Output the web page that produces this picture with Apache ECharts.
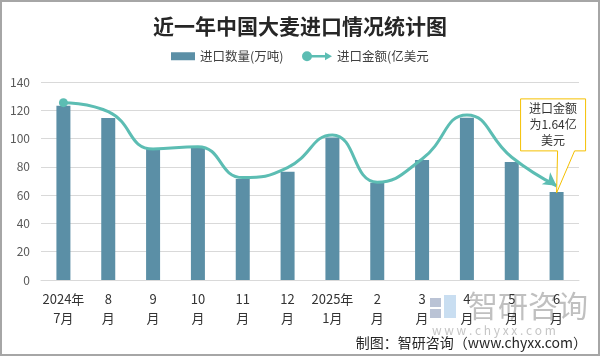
<!DOCTYPE html>
<html><head><meta charset="utf-8">
<script src="https://cdn.jsdelivr.net/npm/echarts@6/dist/echarts.min.js"></script>
<style>html,body{margin:0;padding:0;background:#fff}#c{width:600px;height:356px}</style>
</head><body><div id="c"></div>
<script>
var categories = ['2024年\n7月','8\n月','9\n月','10\n月','11\n月','12\n月','2025年\n1月','2\n月','3\n月','4\n月','5\n月','6\n月'];
var importQty = [123.2, 114.6, 93.4, 93.6, 71.5, 76.5, 100.7, 68.7, 84.9, 114.8, 83.5, 62.3];
var importAmount = [125.4, 119.0, 92.7, 94.3, 72.4, 79.5, 102.6, 69.2, 85.6, 116.7, 86.8, 66.6];
var yTicks = {min: 0, max: 140, interval: 20};
var calloutText = '进口金额\n为1.64亿\n美元';

var FONT = '"Noto Sans CJK SC","Noto Sans",sans-serif';
var barColor = '#5b8fa6';
var lineColor = '#5cbdb3';
var barName = '进口数量(万吨)';
var lineName = '进口金额(亿美元';

var lineData = importAmount.map(function (v, i) {
  if (i === 0) return {value: v, symbol: 'circle', symbolSize: 9};
  if (i === importAmount.length - 1) return {value: v, symbol: 'arrow', symbolSize: [11, 13], symbolRotate: -125};
  return {value: v, symbol: 'none'};
});

var legendText = {fontSize: 12.5, color: '#404040', fontFamily: FONT};

var chart = echarts.init(document.getElementById('c'), null, {renderer: 'canvas'});
chart.setOption({
  animation: false,
  backgroundColor: '#fff',
  textStyle: {fontFamily: FONT},
  title: {
    text: '近一年中国大麦进口情况统计图',
    left: 'center', top: 11,
    textStyle: {fontSize: 21, fontWeight: 'bold', color: '#262626', fontFamily: FONT}
  },
  legend: [
    {left: 171, top: 50, padding: 0, itemWidth: 24, itemHeight: 8, textStyle: legendText,
     data: [{name: barName, icon: 'rect'}]},
    {left: 302, top: 50, padding: 0, itemWidth: 30, itemHeight: 10, textStyle: legendText,
     data: [{name: lineName, icon: 'path://M0,5 A5,5 0 1,1 10,5 A5,5 0 1,1 0,5 Z M9,3.8 L23,3.8 L23,1 L30,5 L23,9 L23,6.2 L9,6.2 Z'}]}
  ],
  grid: {left: 41, right: 21, top: 82, bottom: 76},
  xAxis: {
    type: 'category',
    data: categories,
    axisLine: {lineStyle: {color: '#d9d9d9'}},
    axisTick: {show: false},
    axisLabel: {interval: 0, margin: 10, lineHeight: 19, fontSize: 13, color: '#333', fontFamily: FONT}
  },
  yAxis: {
    type: 'value',
    min: yTicks.min, max: yTicks.max, interval: yTicks.interval,
    axisLine: {show: false},
    axisTick: {show: false},
    splitLine: {lineStyle: {color: '#d9d9d9'}},
    axisLabel: {margin: 11, fontSize: 12, color: '#595959', fontFamily: FONT}
  },
  series: [
    {
      name: barName, type: 'bar', data: importQty,
      barWidth: 14, itemStyle: {color: barColor}
    },
    {
      name: lineName, type: 'line', data: lineData,
      smooth: 0.5, showAllSymbol: true, symbol: 'none',
      lineStyle: {color: lineColor, width: 3},
      itemStyle: {color: lineColor},
      z: 3
    }
  ]
});

function drawExtras() {
  var last = importQty.length - 1;
  var tip = chart.convertToPixel({xAxisIndex: 0, yAxisIndex: 0}, [last, importQty[last]]);
  var tx = tip[0], ty = tip[1] + 1;
  var L = tx - 36, R = tx + 29, T = ty - 94, B = ty - 42;
  var pts = [[L, T], [R, T], [R, B], [tx + 18, B], [tx, ty], [tx + 1, B], [L, B]];
  chart.setOption({
    graphic: [
      {type: 'rect', silent: true, shape: {x: 1, y: 1, width: 598, height: 354},
       style: {fill: 'none', stroke: '#a6a6a6', lineWidth: 2}, z: 100},
      {type: 'polygon', shape: {points: pts}, style: {fill: '#fff', stroke: '#f5c000', lineWidth: 1}, z: 50},
      {type: 'text', x: (L + R) / 2, y: (T + B) / 2, z: 51,
       style: {text: calloutText, fill: '#333', font: '12px ' + FONT, align: 'center', verticalAlign: 'middle', lineHeight: 16}},
      {type: 'text', x: 587, y: 343, z: 60,
       style: {text: '制图：智研咨询（www.chyxx.com）', fill: '#262626', font: '14px ' + FONT, align: 'right', verticalAlign: 'middle'}},
      // watermark
      {type: 'group', x: 430, y: 295, z: 40, silent: true, children: [
        {type: 'rect', shape: {x: 0, y: 3, width: 11, height: 9}, style: {fill: 'rgba(140,155,185,0.6)'}},
        {type: 'rect', shape: {x: 0, y: 14, width: 11, height: 9}, style: {fill: 'rgba(140,155,185,0.6)'}},
        {type: 'rect', shape: {x: 14, y: 0, width: 12, height: 23}, style: {fill: 'rgba(165,200,232,0.6)'}},
        {type: 'text', x: 38, y: -4, style: {text: '智研咨询', fill: 'rgba(150,150,150,0.6)', font: '30px ' + FONT}},
        {type: 'text', x: 2, y: 29, style: {text: 'w w w . c h y x x . c o m', fill: 'rgba(150,150,150,0.55)', font: '12px ' + FONT}}
      ]}
    ]
  });
}
drawExtras();
</script></body></html>
